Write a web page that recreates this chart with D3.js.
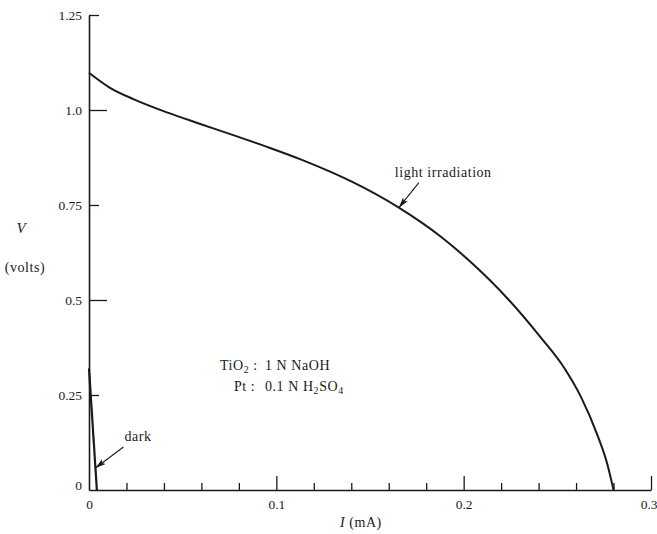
<!DOCTYPE html>
<html><head><meta charset="utf-8">
<script src="https://cdn.jsdelivr.net/npm/d3@7"></script>
<style>
html,body{margin:0;padding:0;background:#fff;}
svg{display:block;}
text{font-family:"Liberation Serif","DejaVu Serif",serif;fill:#1a1a1a;}
.w{font-size:14px;letter-spacing:0.55px;}
</style></head>
<body>
<script>
// ---- data ----
const lightI = [0, 0.011, 0.024, 0.042, 0.059, 0.077, 0.095, 0.113, 0.129, 0.140, 0.1654, 0.1877, 0.2055, 0.2234, 0.2412, 0.2537, 0.2626, 0.2715, 0.2768, 0.280];
const lightV = [1.098, 1.059, 1.028, 0.993, 0.964, 0.934, 0.903, 0.870, 0.837, 0.812, 0.743, 0.667, 0.592, 0.504, 0.401, 0.321, 0.245, 0.143, 0.066, 0];
const darkI = [0, 0.0042];
const darkV = [0.32, 0];
const xMajorTicks = [0.1, 0.2, 0.3];
const xMinorTicks = [0.02, 0.04, 0.06, 0.08, 0.12, 0.14, 0.16, 0.18, 0.22, 0.24, 0.26, 0.28];
const xTickLabels = ["0", "0.1", "0.2", "0.3"];
const yMajorTicks = [0.5, 1.0];
const yMinorTicks = [0.25, 0.75, 1.25];
const yTickLabels = ["0", "0.25", "0.5", "0.75", "1.0", "1.25"];
const lightAnnotIndex = 10;   // point of the light curve the arrow points to
const darkAnnotV = 0.058;

const W = 657, H = 534;
const svg = d3.select("body").append("svg").attr("width", W).attr("height", H);
const ink = "#1a1a1a";

const x = d3.scaleLinear().domain([0, 0.3]).range([89, 651]);
const y = d3.scaleLinear().domain([0, 1.25]).range([490, 15]);

const defs = svg.append("defs");
defs.append("marker").attr("id", "ah")
  .attr("viewBox", "0 0 12 8").attr("refX", 12).attr("refY", 4)
  .attr("markerWidth", 12).attr("markerHeight", 7)
  .attr("markerUnits", "userSpaceOnUse").attr("orient", "auto")
  .append("path").attr("d", "M0,0.5 L12,4 L0,7.5 L2.5,4 z").attr("fill", ink);

// ---- x axis ----
const gx = svg.append("g").attr("transform", `translate(0,${y(0)})`);
gx.call(d3.axisBottom(x).tickValues(xMinorTicks).tickSizeInner(-7).tickSizeOuter(0).tickFormat(""));
gx.call(g => g.select(".domain").remove());
const gx2 = svg.append("g").attr("transform", `translate(0,${y(0)})`);
gx2.call(d3.axisBottom(x).tickValues([0].concat(xMajorTicks)).tickSizeInner(-14).tickSizeOuter(0)
  .tickPadding(9).tickFormat((d, i) => xTickLabels[i]));
gx2.selectAll(".tick").filter(d => d === 0).select("line").remove();
gx2.selectAll(".tick").filter(d => d === 0.3).select("text").attr("text-anchor", "end").attr("x", 6);
[gx, gx2].forEach(g => {
  g.selectAll("line").attr("stroke", ink).attr("stroke-width", 1.3);
  g.selectAll("text").attr("font-size", 13.5).attr("fill", ink);
  g.attr("font-family", null).attr("font-size", null);
});
gx2.select(".domain").attr("stroke", ink).attr("stroke-width", 1.6);

// ---- y axis ----
const gy = svg.append("g").attr("transform", `translate(${x(0)},0)`);
gy.call(d3.axisLeft(y).tickValues(yMinorTicks).tickSizeInner(-10).tickSizeOuter(0).tickFormat(""));
gy.call(g => g.select(".domain").remove());
const gy2 = svg.append("g").attr("transform", `translate(${x(0)},0)`);
const yAll = [0, 0.25, 0.5, 0.75, 1.0, 1.25];
gy2.call(d3.axisLeft(y).tickValues(yAll).tickSizeInner(0).tickSizeOuter(0).tickPadding(7)
  .tickFormat((d, i) => yTickLabels[i]));
gy2.selectAll(".tick").filter(d => yMajorTicks.includes(d)).select("line").attr("x2", 18);
gy2.selectAll(".tick").filter(d => d === 0).select("text").attr("dy", "-0.05em");
[gy, gy2].forEach(g => {
  g.selectAll("line").attr("stroke", ink).attr("stroke-width", 1.3);
  g.selectAll("text").attr("font-size", 13.5).attr("fill", ink);
  g.attr("font-family", null).attr("font-size", null);
});
gy2.select(".domain").attr("stroke", ink).attr("stroke-width", 1.6);

// ---- curves ----
const lightData = lightI.map((d, i) => [d, lightV[i]]);
const darkData = darkI.map((d, i) => [d, darkV[i]]);
const line = d3.line().x(d => x(d[0])).y(d => y(d[1])).curve(d3.curveMonotoneX);
svg.append("path").datum(lightData).attr("d", line)
  .attr("fill", "none").attr("stroke", ink).attr("stroke-width", 2);
svg.append("path").datum(darkData).attr("d", d3.line().x(d => x(d[0])).y(d => y(d[1])))
  .attr("fill", "none").attr("stroke", ink).attr("stroke-width", 2.2);

// ---- annotations ----
const lp = lightData[lightAnnotIndex];
const ltx = x(lp[0]), lty = y(lp[1]);
svg.append("line").attr("x1", ltx + 20).attr("y1", lty - 25).attr("x2", ltx).attr("y2", lty)
  .attr("stroke", ink).attr("stroke-width", 1.1).attr("marker-end", "url(#ah)");
svg.append("text").attr("class", "w").attr("x", ltx - 4).attr("y", lty - 31).text("light irradiation");

const dI = darkI[0] + (darkI[1] - darkI[0]) * (darkV[0] - darkAnnotV) / (darkV[0] - darkV[1]);
const dtx = x(dI), dty = y(darkAnnotV);
svg.append("line").attr("x1", dtx + 28).attr("y1", dty - 21).attr("x2", dtx).attr("y2", dty)
  .attr("stroke", ink).attr("stroke-width", 1.1).attr("marker-end", "url(#ah)");
svg.append("text").attr("class", "w").attr("x", dtx + 29).attr("y", dty - 27).text("dark");

// electrolyte labels
const t1 = svg.append("text").attr("class", "w").attr("x", 220).attr("y", 370);
t1.append("tspan").text("TiO");
t1.append("tspan").attr("font-size", 10).attr("dy", 3).text("2");
t1.append("tspan").attr("dy", -3).text(" :");
svg.append("text").attr("class", "w").attr("x", 265).attr("y", 370).text("1 N  NaOH");
svg.append("text").attr("class", "w").attr("x", 234).attr("y", 391).text("Pt :");
const t2 = svg.append("text").attr("class", "w").attr("x", 265).attr("y", 391);
t2.append("tspan").text("0.1 N  H");
t2.append("tspan").attr("font-size", 10).attr("dy", 3).text("2");
t2.append("tspan").attr("dy", -3).text("SO");
t2.append("tspan").attr("font-size", 10).attr("dy", 3).text("4");

// axis titles
svg.append("text").attr("x", 21).attr("y", 233).attr("text-anchor", "middle")
  .attr("font-size", 15).attr("font-style", "italic").text("V");
svg.append("text").attr("class", "w").attr("x", 25).attr("y", 272).attr("text-anchor", "middle").text("(volts)");
const xt = svg.append("text").attr("class", "w").attr("x", 340).attr("y", 527);
xt.append("tspan").attr("font-style", "italic").text("I");
xt.append("tspan").text(" (mA)");
</script>
</body></html>
